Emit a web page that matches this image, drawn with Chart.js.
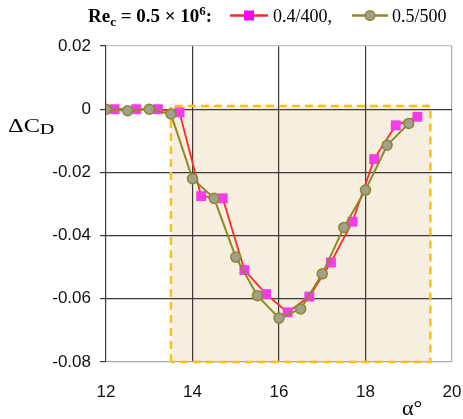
<!DOCTYPE html>
<html><head><meta charset="utf-8">
<script src="https://cdn.jsdelivr.net/npm/chart.js@4/dist/chart.umd.min.js"></script>
<style>html,body{margin:0;padding:0;background:#fff;overflow:hidden}#wrap{position:relative;width:463px;height:419px}</style>
</head><body><div id="wrap"><canvas id="c" width="463" height="419"></canvas></div>
<script>
// Series 0.4/400 (magenta squares)
const alpha400 = [12.2, 12.7, 13.2, 13.7, 14.2, 14.7, 15.2, 15.7, 16.2, 16.7, 17.2, 17.7, 18.2, 18.7, 19.2];
const dCD400   = [0, 0, 0, -0.001, -0.0275, -0.0282, -0.0509, -0.0585, -0.0643, -0.0593, -0.0485, -0.0356, -0.0158, -0.0051, -0.0024];
// Series 0.5/500 (olive circles)
const alpha500 = [12.0, 12.5, 13.0, 13.5, 14.0, 14.5, 15.0, 15.5, 16.0, 16.5, 17.0, 17.5, 18.0, 18.5, 19.0];
const dCD500   = [0, -0.0005, 0, -0.0015, -0.022, -0.0282, -0.0468, -0.059, -0.0661, -0.0632, -0.0521, -0.0374, -0.0256, -0.0114, -0.0045];
// Axis ticks
const xTicks = [12, 14, 16, 18, 20];
const yTicks = [0.02, 0, -0.02, -0.04, -0.06, -0.08];
// Highlighted stall region
const regionAlpha = [13.5, 19.5];
const regionDCD = [0.001, -0.08];
// Labels
const seriesLabels = ['0.4/400,', '0.5/500'];

const tickFont = {family: '"Liberation Sans", Arial, sans-serif', size: 17};

const decor = {
  id: 'decor',
  beforeDraw(chart) {
    const {ctx, scales: {x, y}} = chart;
    const x0 = x.getPixelForValue(regionAlpha[0]), x1 = x.getPixelForValue(regionAlpha[1]);
    const y0 = y.getPixelForValue(regionDCD[0]), y1 = y.getPixelForValue(regionDCD[1]);
    ctx.save();
    ctx.fillStyle = '#f6eedf';
    ctx.fillRect(x0, y0, x1 - x0, y1 - y0);
    ctx.restore();
  },
  beforeDatasetsDraw(chart) {
    const {ctx, scales: {x, y}} = chart;
    const x0 = x.getPixelForValue(regionAlpha[0]), x1 = x.getPixelForValue(regionAlpha[1]);
    const y0 = y.getPixelForValue(regionDCD[0]), y1 = y.getPixelForValue(regionDCD[1]);
    ctx.save();
    ctx.strokeStyle = '#ffbf10';
    ctx.lineWidth = 2.5;
    ctx.setLineDash([8, 5]);
    ctx.beginPath();
    ctx.moveTo(x0, y1); ctx.lineTo(x0, y0); ctx.lineTo(x1, y0); ctx.lineTo(x1, y1); ctx.lineTo(x0, y1);
    ctx.stroke();
    ctx.restore();
  },
  afterDraw(chart) {
    const ctx = chart.ctx;
    const ds = chart.data.datasets;
    ctx.save();
    ctx.fillStyle = '#000';
    ctx.textBaseline = 'alphabetic';
    // Legend title
    let px = 88; const by = 22;
    const serif = '"Liberation Serif", "Times New Roman", serif';
    const seg = (t, font, dy) => { ctx.font = font; ctx.fillText(t, px, by + dy); px += ctx.measureText(t).width; };
    seg('Re', 'bold 19px ' + serif, 0);
    seg('c', 'bold 13px ' + serif, 4);
    seg(' = 0.5 × 10', 'bold 19px ' + serif, 0);
    seg('6', 'bold 13px ' + serif, -7);
    seg(':', 'bold 19px ' + serif, 0);
    // item 1 (magenta squares)
    const ly = 15.5;
    let lx = 230;
    ctx.strokeStyle = ds[1].borderColor; ctx.lineWidth = 2.5;
    ctx.beginPath(); ctx.moveTo(lx, ly); ctx.lineTo(lx + 38, ly); ctx.stroke();
    ctx.fillStyle = '#ff00ff'; ctx.fillRect(lx + 19 - 5, ly - 5, 10, 10);
    ctx.fillStyle = '#000'; ctx.font = '18px ' + serif; ctx.fillText(seriesLabels[0], 273, by);
    // item 2 (olive circles)
    lx = 352;
    ctx.strokeStyle = ds[0].borderColor; ctx.lineWidth = 2.5;
    ctx.beginPath(); ctx.moveTo(lx, ly); ctx.lineTo(lx + 36, ly); ctx.stroke();
    ctx.fillStyle = ds[0].pointBackgroundColor; ctx.strokeStyle = ds[0].pointBorderColor; ctx.lineWidth = 1.5;
    ctx.beginPath(); ctx.arc(lx + 18, ly, 4.8, 0, Math.PI * 2); ctx.fill(); ctx.stroke();
    ctx.fillStyle = '#000'; ctx.font = '18px ' + serif; ctx.fillText(seriesLabels[1], 392, by);
    // Y title ΔC_D (horizontal)
    ctx.save();
    ctx.translate(8, 132); ctx.scale(1.35, 1);
    ctx.font = '18px ' + serif; ctx.fillText('ΔC', 0, 0);
    const w = ctx.measureText('ΔC').width;
    ctx.font = '15px ' + serif; ctx.fillText('D', w, 1.5);
    ctx.restore();
    // X title α°
    ctx.font = '22px ' + serif; ctx.fillText('α°', 402, 415);
    ctx.restore();
  }
};

const toPts = (xs, ys) => xs.map((v, i) => ({x: v, y: ys[i]}));

new Chart(document.getElementById('c'), {
  type: 'line',
  data: {
    datasets: [
      {
        label: seriesLabels[1], data: toPts(alpha500, dCD500), order: 0,
        borderColor: '#8c8a22', borderWidth: 2,
        pointStyle: 'circle', pointRadius: 5, pointBackgroundColor: '#a29f8c',
        pointBorderColor: '#8a8a2a', pointBorderWidth: 1.5, tension: 0
      },
      {
        label: seriesLabels[0], data: toPts(alpha400, dCD400), order: 1,
        borderColor: '#ff2a2a', borderWidth: 1.8,
        pointStyle: 'rect', pointRadius: 7, pointBackgroundColor: '#f53ce8',
        pointBorderColor: '#f53ce8', pointBorderWidth: 0, tension: 0
      }
    ]
  },
  options: {
    responsive: false, animation: false, devicePixelRatio: 1,
    layout: {padding: {top: 46, right: 11, left: 0, bottom: 0}},
    plugins: {legend: {display: false}, tooltip: {enabled: false}},
    scales: {
      x: {
        type: 'linear', min: 12, max: 20,
        afterBuildTicks: s => { s.ticks = xTicks.map(v => ({value: v})); },
        afterFit: s => { s.height = 57; s.paddingLeft = 0; s.paddingRight = 0; },
        ticks: {font: tickFont, color: '#111', padding: 20, maxRotation: 0, callback: v => String(v)},
        grid: {drawTicks: false, lineWidth: 1.2, color: c => c.tick && c.tick.value === 20 ? '#aaaaaa' : '#3a3a3a'},
        border: {display: false}
      },
      y: {
        type: 'linear', min: -0.08, max: 0.02,
        afterBuildTicks: s => { s.ticks = yTicks.map(v => ({value: v})); },
        afterFit: s => { s.width = 106; s.paddingTop = 0; s.paddingBottom = 0; },
        ticks: {font: tickFont, color: '#111', padding: 9, callback: v => Math.abs(v) < 1e-9 ? '0' : v.toFixed(2)},
        grid: {tickLength: 6, lineWidth: 1.2, tickColor: '#333',
          color: c => {
            const v = c.tick ? c.tick.value : 0;
            if (Math.abs(v - 0.02) < 1e-9) return '#c4c4c4';
            if (Math.abs(v + 0.08) < 1e-9) return '#aaaaaa';
            return '#3a3a3a';
          }},
        border: {display: false}
      }
    }
  },
  plugins: [decor]
});
</script>
</body></html>
